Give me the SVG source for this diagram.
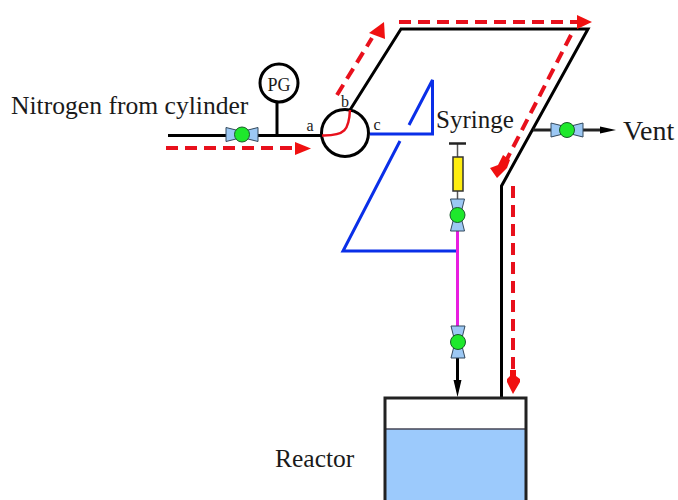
<svg xmlns="http://www.w3.org/2000/svg" width="678" height="500" viewBox="0 0 678 500">
<defs>
<style>
text{font-family:"Liberation Serif",serif;fill:#1a1a1a}
.k{fill:none;stroke:#000;stroke-width:3}
.b{fill:none;stroke:#0a2fe8;stroke-width:3}
.r{fill:none;stroke:#e8101c;stroke-width:4;stroke-dasharray:12 7}
.h{fill:#f01010}
.vb{fill:#9cc8f4;stroke:#33485c;stroke-width:1}
.vc{fill:#1ee82c;stroke:#1a5a2a;stroke-width:1}
</style>
<g id="valve">
<path class="vb" d="M-16-7L0-3L16-7V7L0 3L-16 7Z"/>
<circle class="vc" r="7.500"/>
</g>
</defs>
<rect width="678" height="500" fill="#fff"/>
<g id="connectors">
<path class="k" d="M168 135.500H322"/>
<path class="k" d="M277 102V135"/>
<path class="k" d="M350 110L401 29H588L501.500 186V398"/>
<path class="b" d="M370 134H432.500V80L409 125"/>
<path class="b" d="M400 141L343 251H457"/>
<path d="M533 130H601" stroke="#222" stroke-width="3" fill="none"/>
<path d="M600 126.500L616 130L600 133.500Z" fill="#000"/>
<path d="M457.500 144V199" stroke="#555" stroke-width="1.500" fill="none"/>
<path d="M449 143.500H466" stroke="#222" stroke-width="2.500" fill="none"/>
<path d="M457.500 231V326" stroke="#e81ee0" stroke-width="3" fill="none"/>
<path d="M457.500 358V385" stroke="#000" stroke-width="3" fill="none"/>
<path d="M453.500 380L457.500 397L461.500 380Z" fill="#000"/>
<path class="r" d="M166 148H297"/>
<path class="h" d="M295 142L311 148.500L295 155Z"/>
<path class="r" d="M337 95L372 38"/>
<path class="h" d="M369 33L384 22L385 39Z"/>
<path class="r" d="M399 22H578"/>
<path class="h" d="M577 15L592 22L577 29Z"/>
<path class="r" d="M571 35L507 159"/>
<path class="h" d="M503 155L510 160L507 168L497 178L490 168L498 165Z"/>
<path class="r" d="M513 186V372"/>
<path class="h" d="M507 382V379L510 376V370H516V376L520 379V382L513 394Z"/>
</g>
<g id="pg"><circle cx="279" cy="83" r="19" fill="#fff" stroke="#000" stroke-width="3"/><text x="279" y="91" font-size="18" text-anchor="middle">PG</text></g>
<g id="junction"><circle cx="345" cy="133" r="23.500" fill="none" stroke="#000" stroke-width="3"/>
<path d="M322 135.500C345 136 349 130 350 110" fill="none" stroke="#e8101c" stroke-width="2.500"/>
<text x="310" y="131" font-size="16" text-anchor="middle">a</text><text x="345" y="107" font-size="16" text-anchor="middle">b</text><text x="377" y="130" font-size="16" text-anchor="middle">c</text></g>
<use id="valve1" href="#valve" x="242" y="134.500"/>
<use id="valve2" href="#valve" x="567" y="130"/>
<use id="valve3" href="#valve" transform="translate(457.500 215) rotate(90)"/>
<use id="valve4" href="#valve" transform="translate(458 342) rotate(90)"/>
<g id="syringe"><rect x="453" y="157" width="10" height="34" fill="#ffee10" stroke="#333" stroke-width="1.500"/><text x="436" y="128" font-size="25">Syringe</text></g>
<g id="reactor"><rect x="385" y="429" width="141" height="71" fill="#9ccafc"/><path d="M385 429H526" stroke="#445" stroke-width="1.500"/><path d="M385 500V398H526V500" fill="none" stroke="#222" stroke-width="3"/><text x="275" y="467" font-size="25.500">Reactor</text></g>
<text id="nitrogen" x="11" y="114" font-size="25.600">Nitrogen from cylinder</text>
<text id="vent" x="623" y="140" font-size="28">Vent</text>
</svg>
